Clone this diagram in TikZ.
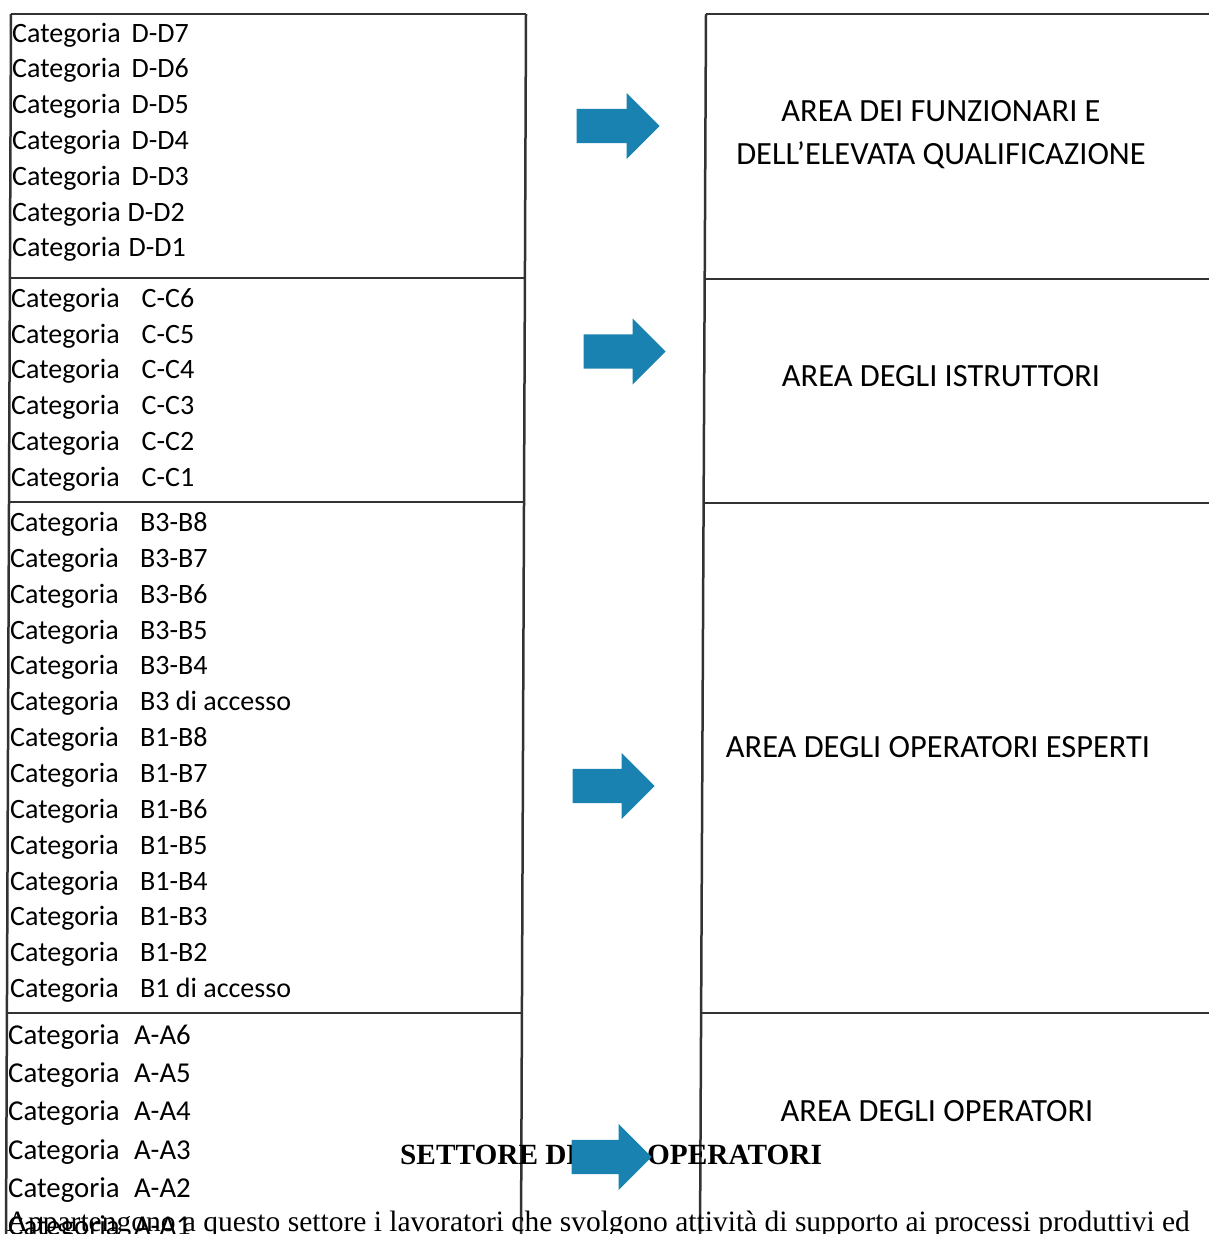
\documentclass[tikz,border=0pt]{standalone}
\usepackage{fontspec}
\setmainfont{Carlito}
\newfontfamily\serifscan{Liberation Serif}
\usetikzlibrary{shapes.arrows}

\definecolor{arrowblue}{RGB}{26,130,176}
\definecolor{boxgray}{RGB}{50,50,50}

\tikzset{
  catlabel/.style={anchor=base west, inner sep=0pt, font=\fontsize{28}{28}\selectfont},
  arealabel/.style={anchor=base, inner sep=0pt, align=center, font=\fontsize{32.4}{43}\selectfont},
  boxline/.style={boxgray, line width=2.5pt},
  bluearrow/.style={single arrow, fill=arrowblue, draw=none, anchor=tip, inner xsep=0pt,
    inner ysep=17pt, minimum width=66pt, single arrow head extend=16pt},
}

\begin{document}
\begin{tikzpicture}[x=1pt, y=-1pt]
    % Page area of the scan (pixel units, y grows downwards)
    \useasboundingbox (0,0) rectangle (1209,1234);
    \clip (0,0) rectangle (1209,1234);

    % Left column: the old categories
    \draw[boxline] (11,14) -- (526,14);
    \draw[boxline] (11,14) -- (6,1240);% slightly skewed scan
    \draw[boxline] (526,14) -- (521,1240);
    \draw[boxline] (9.9,278) -- (524.9,278);
    \draw[boxline] (9.0,502) -- (524.0,502);
    \draw[boxline] (6.9,1013) -- (521.9,1013);

    % Right column: the new areas
    \draw[boxline] (706,14) -- (1215,14);
    \draw[boxline] (706,14) -- (700,1240);
    \draw[boxline] (704.7,279) -- (1215,279);
    \draw[boxline] (703.6,503) -- (1215,503);
    \draw[boxline] (701.1,1013) -- (1215,1013);

    % Category rows
    \foreach \lab/\gp [count=\k from 0] in {D-D7/11pt, D-D6/11pt, D-D5/11pt, D-D4/11pt, D-D3/11pt, D-D2/7pt, D-D1/8pt}
      \node[catlabel] (cD\k) at (12, 42+35.8*\k) {Categoria\hspace{\gp}\lab};
    \foreach \lab [count=\k from 0] in {C-C6, C-C5, C-C4, C-C3, C-C2, C-C1}
      \node[catlabel] (cC\k) at (11, 307.5+35.7*\k) {Categoria\hspace{22pt}\lab};
    \foreach \lab [count=\k from 0] in {B3-B8, B3-B7, B3-B6, B3-B5, B3-B4, B3 di accesso, B1-B8, B1-B7, B1-B6, B1-B5, B1-B4, B1-B3, B1-B2, B1 di accesso}
      \node[catlabel] (cB\k) at (10, 531.5+35.85*\k) {Categoria\hspace{21.5pt}\lab};
    \foreach \lab [count=\k from 0] in {A-A6, A-A5, A-A4, A-A3, A-A2, A-A1}
      \node[catlabel, font=\fontsize{28.8}{28.8}\selectfont] (cA\k) at (8, 1044.5+38.2*\k) {Categoria\hspace{14.5pt}\lab};

    % Area names
    \node[arealabel] (areaD) at (941,164.5) {AREA DEI FUNZIONARI E\\DELL’ELEVATA QUALIFICAZIONE};
    \node[arealabel] (areaC) at (941,386) {AREA DEGLI ISTRUTTORI};
    \node[arealabel] (areaB) at (938,757) {AREA DEGLI OPERATORI ESPERTI};
    \node[arealabel] (areaA) at (937,1121) {AREA DEGLI OPERATORI};

    % Text of the page below, showing through
    \node[anchor=base west, inner sep=0pt, font=\serifscan\bfseries\fontsize{29.3}{29.3}\selectfont] (settore) at (400,1164) {SETTORE DEGLI OPERATORI};
    \node[anchor=base east, inner sep=0pt, font=\serifscan\fontsize{29.5}{29.5}\selectfont] (intro) at (1190,1231) {Appartengono a questo settore i lavoratori che svolgono attività di supporto ai processi produttivi ed};

    % Block arrows, old -> new
    \node[bluearrow, minimum height=83pt] (arrD) at (660,126) {};
    \node[bluearrow, minimum height=82pt] (arrC) at (666,351.5) {};
    \node[bluearrow, minimum height=82pt] (arrB) at (655,786) {};
    \node[bluearrow, minimum height=80pt] (arrA) at (652,1157) {};
\end{tikzpicture}
\end{document}
